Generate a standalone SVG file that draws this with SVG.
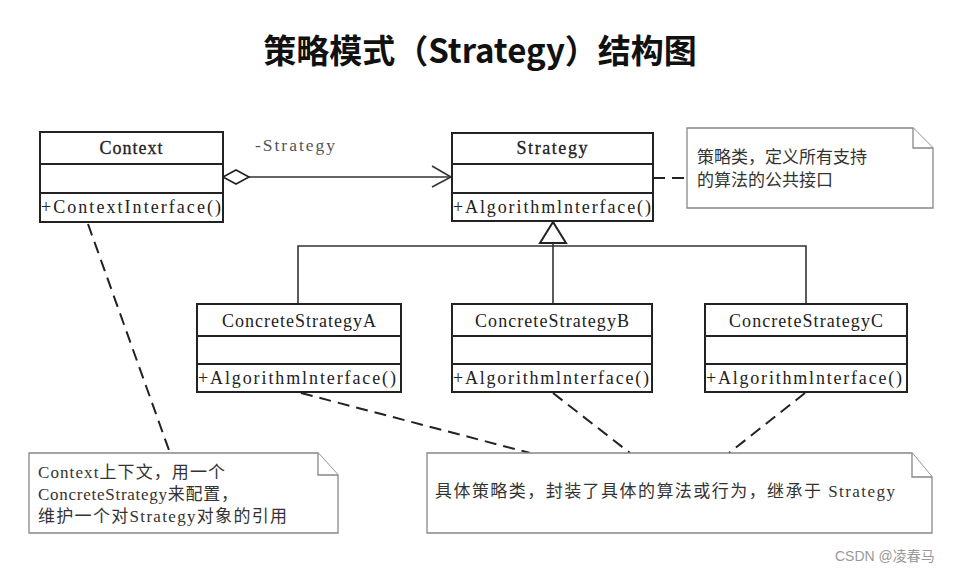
<svg xmlns="http://www.w3.org/2000/svg" width="976" height="575" viewBox="0 0 976 575">
<style>
.box{fill:#fff;stroke:#222;stroke-width:2}
.sep{stroke:#222;stroke-width:2}
.cls{font-family:"Liberation Serif","Noto Sans CJK SC",serif;font-size:18px;fill:#222}
.name{text-anchor:middle}
.bold{stroke:#222;stroke-width:0.3}
.note{fill:#fff;stroke:#888;stroke-width:1.3}
.ntext{font-family:"Liberation Serif","Noto Sans CJK SC",serif;font-size:17px;fill:#333}
.line{fill:none;stroke:#333;stroke-width:1.6}
.dash{fill:none;stroke:#222;stroke-width:2;stroke-dasharray:12 7}
</style>
<rect width="976" height="575" fill="#fff"/>
<text x="480" y="63" text-anchor="middle" font-family="'Noto Sans CJK SC',sans-serif" font-weight="bold" font-size="33" fill="#111">策略模式（Strategy）结构图</text>

<g id="connectors">
  <line class="line" x1="249" y1="177" x2="451" y2="177"/>
  <polygon points="223,177 236,170 249,177 236,184" fill="#fff" stroke="#222" stroke-width="1.6"/>
  <polyline class="line" points="432,166 451,177 432,187" stroke-width="2"/>
  <text x="255" y="151" font-family="'Liberation Serif',serif" font-size="17.5" fill="#555" textLength="80">-Strategy</text>
  <polygon points="553,222 540,243 566,243" fill="#fff" stroke="#222" stroke-width="2"/>
  <line class="line" x1="553" y1="243" x2="553" y2="304"/>
  <polyline class="line" points="298,304 298,246 806,246 806,304"/>
  <line class="dash" x1="653" y1="178" x2="687" y2="178"/>
  <line class="dash" x1="88" y1="224" x2="170" y2="453"/>
  <line class="dash" x1="301" y1="393" x2="530" y2="453"/>
  <line class="dash" x1="553" y1="393" x2="630" y2="453"/>
  <line class="dash" x1="805" y1="393" x2="729" y2="453"/>
</g>

<g id="context">
  <rect class="box" x="40" y="132" width="183" height="90"/>
  <line class="sep" x1="40" y1="164" x2="223" y2="164"/>
  <line class="sep" x1="40" y1="193" x2="223" y2="193"/>
  <text class="cls name bold" x="131" y="154" textLength="63">Context</text>
  <text class="cls" x="41" y="213" textLength="180">+ContextInterface()</text>
</g>

<g id="strategy">
  <rect class="box" x="452" y="133" width="201" height="88"/>
  <line class="sep" x1="452" y1="164" x2="653" y2="164"/>
  <line class="sep" x1="452" y1="193" x2="653" y2="193"/>
  <text class="cls name bold" x="552" y="154" textLength="71">Strategy</text>
  <text class="cls" x="453" y="213" textLength="198">+Algorithmlnterface()</text>
</g>

<g id="concreteA">
  <rect class="box" x="197" y="304" width="204" height="88"/>
  <line class="sep" x1="197" y1="336" x2="401" y2="336"/>
  <line class="sep" x1="197" y1="364" x2="401" y2="364"/>
  <text class="cls name" x="299" y="327" textLength="154">ConcreteStrategyA</text>
  <text class="cls" x="198" y="384" textLength="198">+Algorithmlnterface()</text>
</g>

<g id="concreteB">
  <rect class="box" x="452" y="304" width="200" height="88"/>
  <line class="sep" x1="452" y1="336" x2="652" y2="336"/>
  <line class="sep" x1="452" y1="364" x2="652" y2="364"/>
  <text class="cls name" x="552" y="327" textLength="154">ConcreteStrategyB</text>
  <text class="cls" x="453" y="384" textLength="196">+Algorithmlnterface()</text>
</g>

<g id="concreteC">
  <rect class="box" x="705" y="304" width="202" height="88"/>
  <line class="sep" x1="705" y1="336" x2="907" y2="336"/>
  <line class="sep" x1="705" y1="364" x2="907" y2="364"/>
  <text class="cls name" x="806" y="327" textLength="154">ConcreteStrategyC</text>
  <text class="cls" x="706" y="384" textLength="196">+Algorithmlnterface()</text>
</g>

<g id="note-strategy">
  <path class="note" d="M687,128 H913 L933,148 V208 H687 Z"/>
  <path class="note" d="M913,128 V148 H933" fill="none"/>
  <text class="ntext" x="697" y="163">策略类，定义所有支持</text>
  <text class="ntext" x="697" y="186">的算法的公共接口</text>
</g>

<g id="note-context">
  <path class="note" d="M29,453 H318 L338,475 V533 H29 Z"/>
  <path class="note" d="M318,453 V475 H338" fill="none"/>
  <text class="ntext" x="38" y="478" textLength="187">Context上下文，用一个</text>
  <text class="ntext" x="38" y="500" textLength="200">ConcreteStrategy来配置，</text>
  <text class="ntext" x="38" y="522" textLength="249">维护一个对Strategy对象的引用</text>
</g>

<g id="note-concrete">
  <path class="note" d="M427,453 H912 L932,477 V533 H427 Z"/>
  <path class="note" d="M912,453 V477 H932" fill="none"/>
  <text class="ntext" x="435" y="497" textLength="460">具体策略类，封装了具体的算法或行为，继承于 Strategy</text>
</g>

<text x="835" y="561" font-family="'Liberation Sans','Noto Sans CJK SC',sans-serif" font-size="14" fill="#999">CSDN @凌春马</text>
</svg>
